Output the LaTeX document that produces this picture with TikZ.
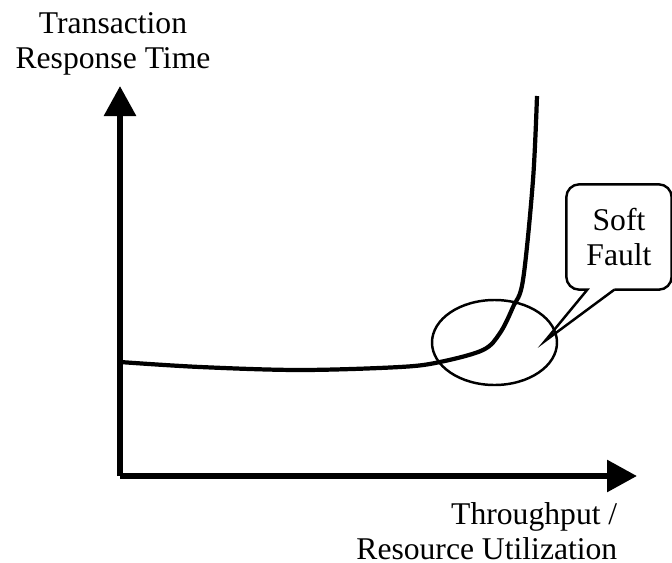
\documentclass[tikz,border=0pt]{standalone}
\usepackage{fontspec}
\setmainfont{Liberation Serif}
\usetikzlibrary{arrows.meta}
\begin{document}
\begin{tikzpicture}[
    axis/.style={line width=1.7pt, -{Triangle[length=3mm,width=3.1mm]}},
    lbl/.style={font=\fontsize{9}{9.8}\selectfont, inner sep=0pt},
  ]
  \useasboundingbox (0,0) rectangle (6.72,5.62);

  % axes
  \coordinate (O) at (1.20,0.86);
  \coordinate (ytip) at (1.20,4.76);
  \coordinate (xtip) at (6.37,0.86);
  \draw[axis] (O) -- (ytip);
  \draw[axis] (O) -- (xtip);

  \node[lbl, align=center] (ylabel) at (1.13,5.18) {Transaction\\Response Time};
  \node[lbl, align=right, anchor=north east] (xlabel) at (6.18,0.60) {Throughput /\\Resource Utilization};

  % response curve
  \draw[line width=1.2pt] plot[smooth, tension=0.55] coordinates {
      (1.20,2.00) (2.00,1.95) (3.00,1.92) (4.00,1.95) (4.40,2.00)
      (4.83,2.12) (5.00,2.29) (5.13,2.55) (5.23,2.82) (5.33,3.82) (5.37,4.66)};

  % knee
  \draw[line width=0.7pt] (4.945,2.195) ellipse [x radius=0.625, y radius=0.425];

  % callout
  \node[lbl, align=center, minimum width=1.04cm, minimum height=1.04cm] (fault) at (6.19,3.25) {Soft\\Fault};
  \coordinate (tip) at (5.45,2.21);
  \draw[line width=0.7pt] ([xshift=0.48cm]fault.south west) -- (tip) -- ([xshift=0.21cm]fault.south west)
      [rounded corners=0.13cm] -- (fault.south west) -- (fault.north west) -- (fault.north east)
      -- (fault.south east) -- ([xshift=0.48cm]fault.south west);
\end{tikzpicture}
\end{document}
